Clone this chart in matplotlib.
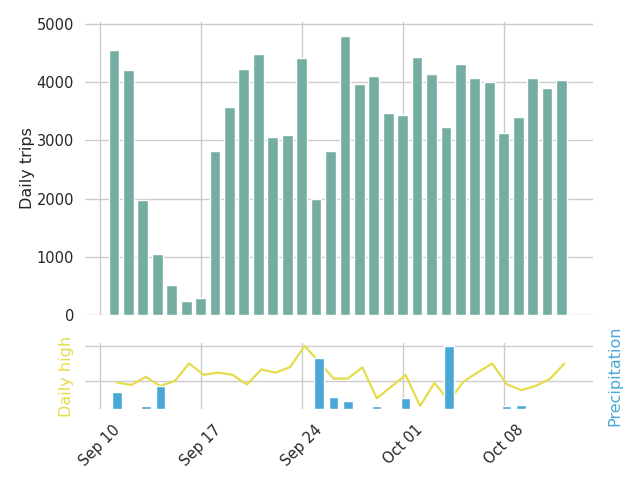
import pandas as pd
import matplotlib
matplotlib.use("Agg")
import matplotlib.pyplot as plt
import matplotlib.dates as mdates
import seaborn as sns

# one value per day, Sep 11 .. Oct 12
dates = pd.date_range("2017-09-11", "2017-10-12", freq="D")
trips = [4554, 4211, 1979, 1053, 515, 246, 297, 2820, 3576, 4228, 4485,
         3061, 3095, 4416, 1997, 2820, 4794, 3970, 4108, 3473, 3438, 4434,
         4142, 3232, 4314, 4073, 4005, 3129, 3404, 4073, 3902, 4039]
daily_high = [69.6, 68.9, 71.2, 68.6, 70.0, 75.0, 71.8, 72.4, 71.8, 69.0,
              73.3, 72.4, 74.0, 80.0, 75.5, 70.7, 70.7, 73.9, 65.1, 68.4,
              71.7, 62.9, 69.5, 64.3, 69.8, 72.5, 75.0, 69.1, 67.4, 68.6,
              70.6, 75.0]
precip = [0.32, 0, 0.06, 0.44, 0, 0, 0, 0, 0, 0, 0, 0, 0, 0, 0.98, 0.22,
          0.16, 0, 0.06, 0, 0.20, 0, 0, 1.20, 0, 0, 0, 0.06, 0.08, 0.02, 0, 0]

trip_color = "#76ada3"
high_color = "#e5dc4a"
rain_color = "#4aa8d6"

sns.set_theme(style="whitegrid")
plt.rcParams['font.family'] = ['DejaVu Sans']

fig, (ax1, ax2) = plt.subplots(2, 1, sharex=True, figsize=(6.4, 4.8), dpi=100,
                               gridspec_kw={'height_ratios': [4.45, 1]})
fig.subplots_adjust(left=0.133, right=0.927, top=0.955, bottom=0.148, hspace=0.154)

ax1.bar(dates, trips, width=0.75, color=trip_color)
ax1.set_ylabel("Daily trips", fontsize=11.5, labelpad=1)

# weather is logged a few hours later in the day
wx_dates = dates + pd.Timedelta(hours=5)
ax2.plot(wx_dates, daily_high, color=high_color, lw=1.6)
ax2.set_yticks([70, 80])
ax2.set_yticklabels([])
ax2.set_ylabel("Daily high", color=high_color, fontsize=11.5, labelpad=4.5)

ax3 = ax2.twinx()
ax3.bar(wx_dates, precip, width=0.65, color=rain_color)
ax3.set_yticks([])
ax3.grid(False)
ax3.set_ylabel("Precipitation", color=rain_color, fontsize=11.5, labelpad=10)

ax2.xaxis.set_major_locator(mdates.WeekdayLocator(byweekday=mdates.SU))
ax2.xaxis.set_major_formatter(mdates.DateFormatter("%b %d"))
ax2.set_xlim(pd.Timestamp("2017-09-09"), pd.Timestamp("2017-10-14 05:00"))
ax2.tick_params(axis='x', rotation=45, labelsize=10.5)
ax2.tick_params(axis='y', left=False, length=0)
ax1.tick_params(axis='y', labelsize=10.5, pad=2)

for ax in (ax1, ax2, ax3):
    for s in ax.spines.values():
        s.set_visible(False)

fig.savefig("out.png")
